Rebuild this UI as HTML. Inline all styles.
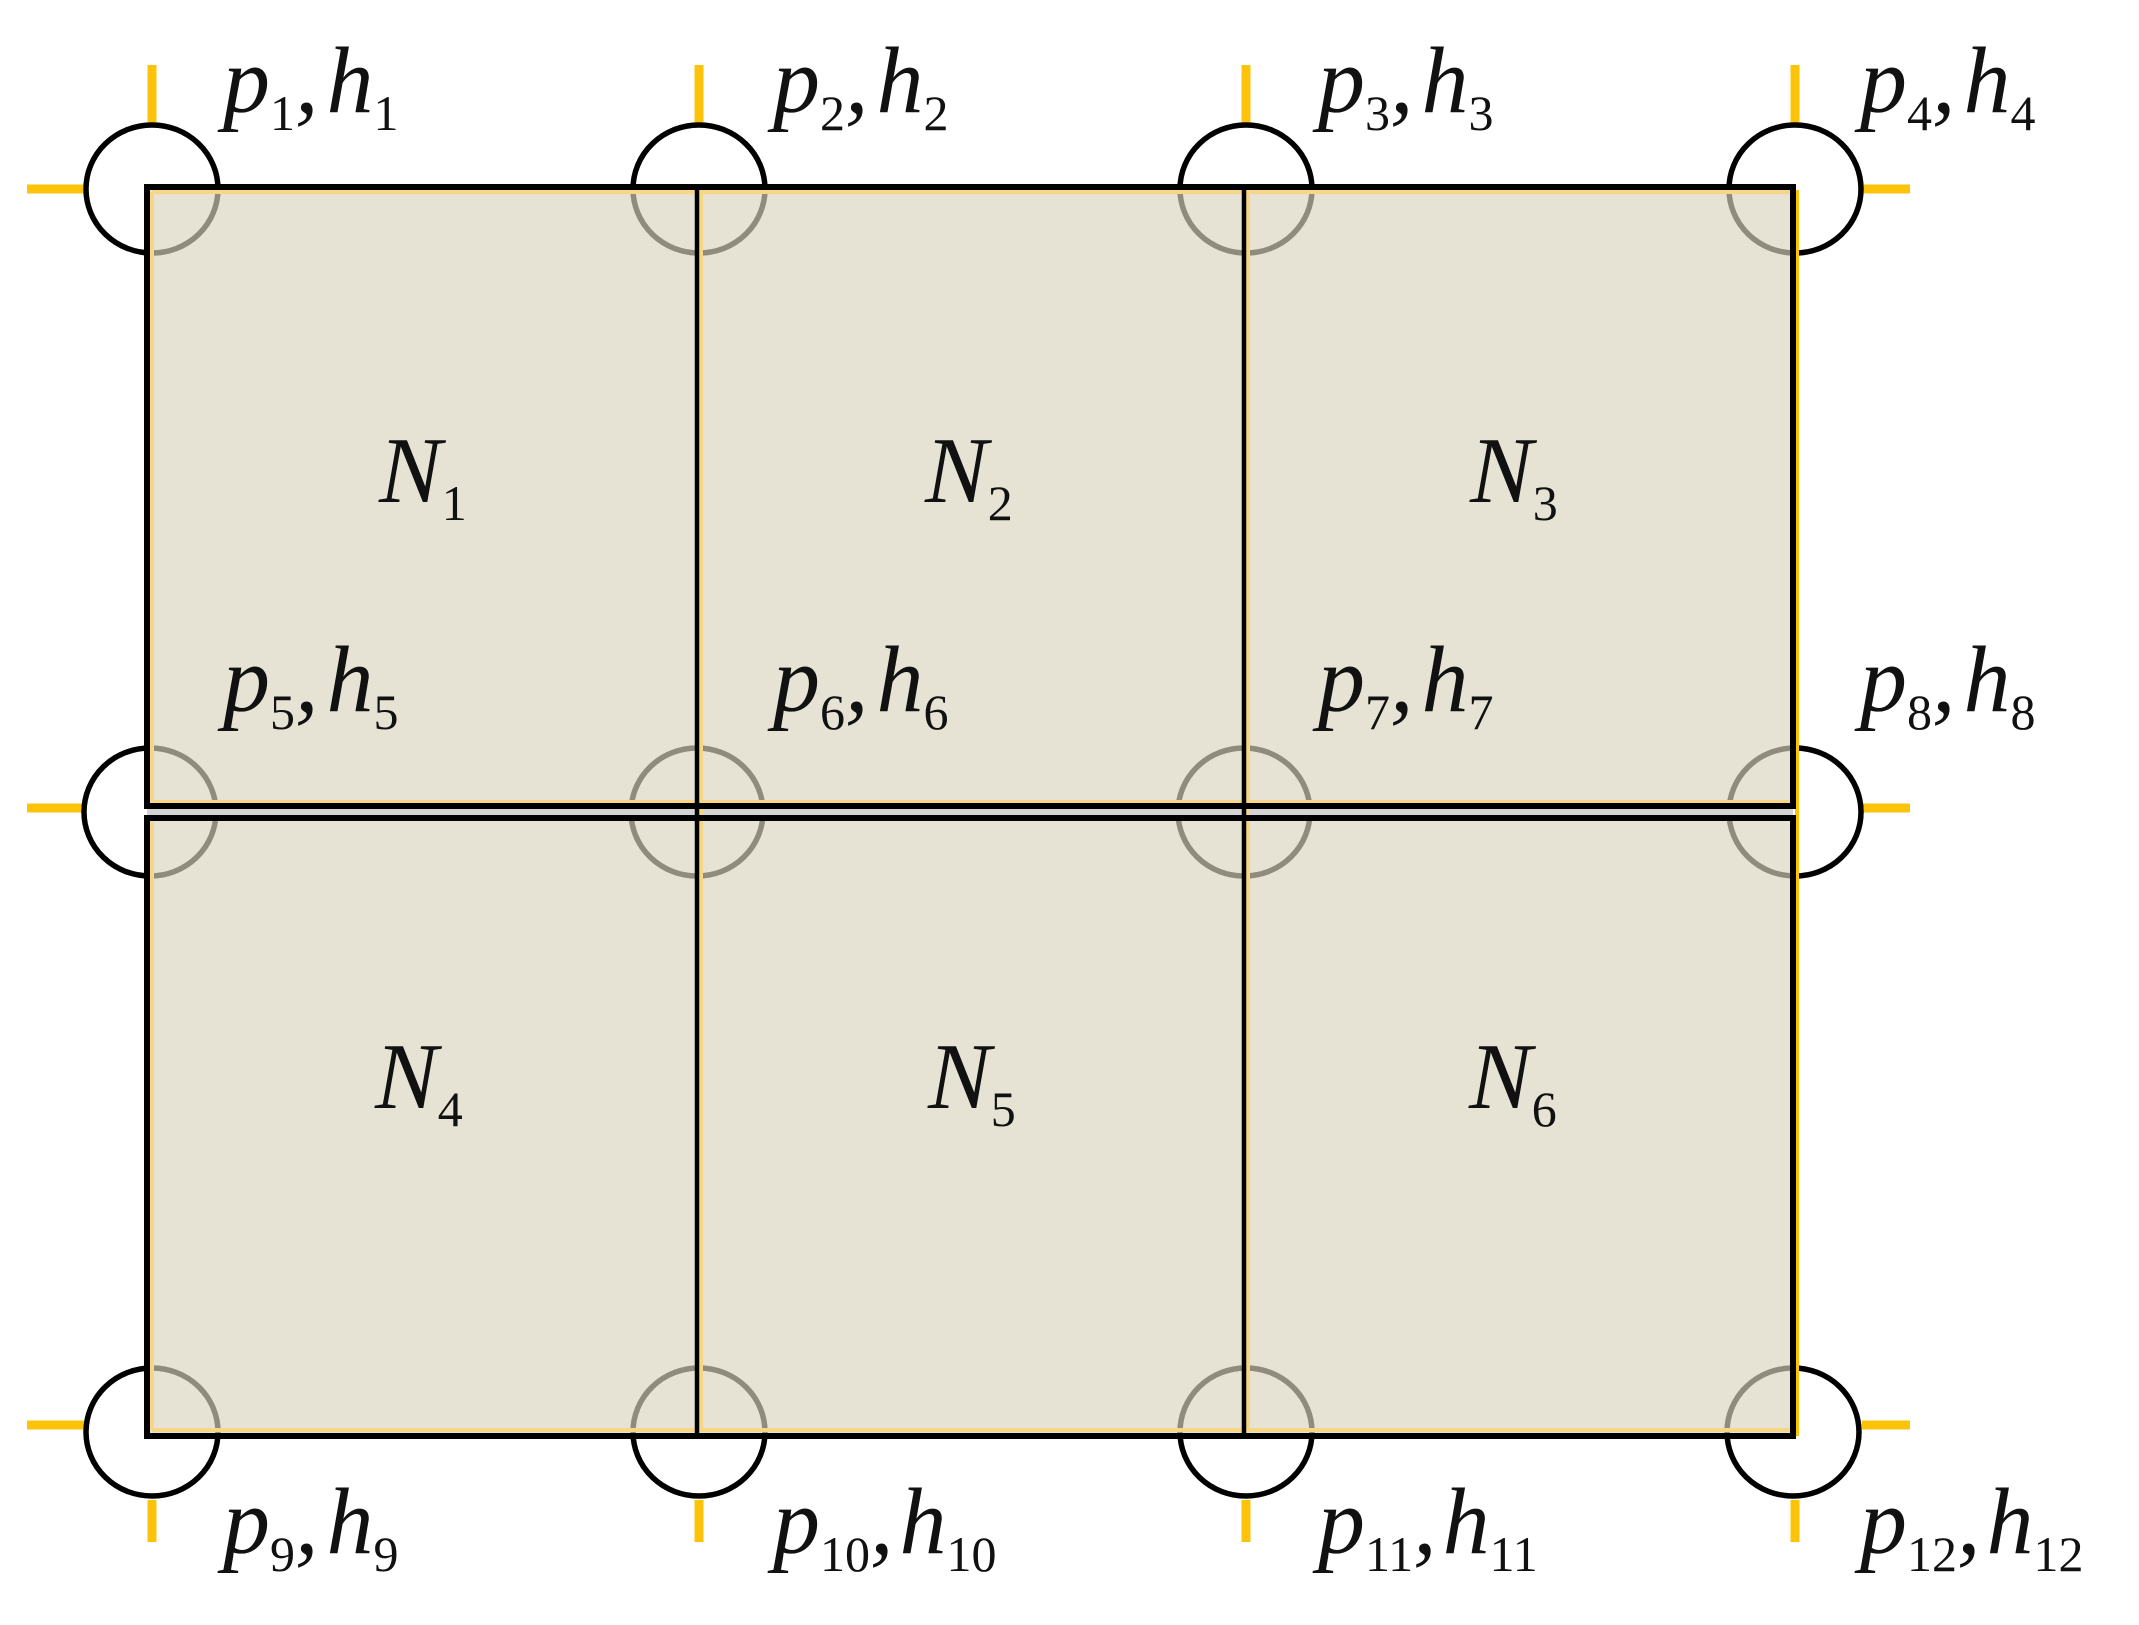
<!DOCTYPE html>
<html><head><meta charset="utf-8"><style>
html,body{margin:0;padding:0;background:#fff;}
svg{display:block;}
text{font-family:"Liberation Serif",serif;fill:#111;}
.m{font-style:italic;font-size:94px;}
.s{font-style:normal;font-size:50px;}
</style></head><body>
<svg width="2139" height="1625" viewBox="0 0 2139 1625" xmlns="http://www.w3.org/2000/svg">
<g stroke="#fcc30a" stroke-width="9">
  <line x1="152" y1="65" x2="152" y2="125"/>
  <line x1="699" y1="65" x2="699" y2="125"/>
  <line x1="1246" y1="65" x2="1246" y2="125"/>
  <line x1="1795" y1="65" x2="1795" y2="125"/>
  <line x1="152" y1="1500" x2="152" y2="1542"/>
  <line x1="699" y1="1500" x2="699" y2="1542"/>
  <line x1="1246" y1="1500" x2="1246" y2="1542"/>
  <line x1="1795" y1="1500" x2="1795" y2="1542"/>
  <line x1="27" y1="189" x2="84" y2="189"/>
  <line x1="27" y1="808" x2="84" y2="808"/>
  <line x1="27" y1="1425" x2="84" y2="1425"/>
  <line x1="1862" y1="189" x2="1910" y2="189"/>
  <line x1="1862" y1="808" x2="1910" y2="808"/>
  <line x1="1862" y1="1425" x2="1910" y2="1425"/>
</g>
<g fill="none" stroke="#000" stroke-width="5.5">
  <ellipse cx="152" cy="189" rx="66" ry="64"/>
  <ellipse cx="699" cy="189" rx="66" ry="64"/>
  <ellipse cx="1246" cy="189" rx="66" ry="64"/>
  <ellipse cx="1795" cy="189" rx="66" ry="64"/>
  <ellipse cx="150" cy="812" rx="66" ry="64"/>
  <ellipse cx="697" cy="812" rx="66" ry="64"/>
  <ellipse cx="1244" cy="812" rx="66" ry="64"/>
  <ellipse cx="1795" cy="812" rx="66" ry="64"/>
  <ellipse cx="152" cy="1432" rx="66" ry="64"/>
  <ellipse cx="699" cy="1432" rx="66" ry="64"/>
  <ellipse cx="1246" cy="1432" rx="66" ry="64"/>
  <ellipse cx="1793" cy="1432" rx="66" ry="64"/>
</g>
<rect x="147" y="806" width="1646" height="12" fill="#d4d4d4"/>
<g fill="rgb(217,213,190)" fill-opacity="0.66">
  <rect x="147" y="187" width="1646" height="619"/>
  <rect x="147" y="818" width="1646" height="618"/>
</g>
<g stroke="#f7d685" stroke-width="4" fill="none">
  <line x1="152" y1="192" x2="1790" y2="192"/>
  <line x1="152" y1="192" x2="152" y2="802"/>
  <line x1="152" y1="802" x2="1790" y2="802"/>
  <line x1="152" y1="822" x2="152" y2="1430"/>
  <line x1="152" y1="1430" x2="1790" y2="1430"/>
  <line x1="701" y1="192" x2="701" y2="1430"/>
  <line x1="1248" y1="192" x2="1248" y2="1430"/>
  <line x1="1797" y1="190" x2="1797" y2="1436" stroke="#fcc30a"/>
</g>
<g fill="none" stroke="#000" stroke-width="6">
  <rect x="147" y="187" width="1646" height="619"/>
  <rect x="147" y="818" width="1646" height="618"/>
</g>
<g stroke="#000" stroke-width="4.5">
  <line x1="697" y1="187" x2="697" y2="1436"/>
  <line x1="1244" y1="187" x2="1244" y2="1436"/>
</g>
<g class="m">
  <text x="223" y="112">p<tspan class="s" dy="18">1</tspan><tspan dy="-18">,</tspan><tspan dx="8">h</tspan><tspan class="s" dy="18">1</tspan></text>
  <text x="773" y="112">p<tspan class="s" dy="18">2</tspan><tspan dy="-18">,</tspan><tspan dx="8">h</tspan><tspan class="s" dy="18">2</tspan></text>
  <text x="1318" y="112">p<tspan class="s" dy="18">3</tspan><tspan dy="-18">,</tspan><tspan dx="8">h</tspan><tspan class="s" dy="18">3</tspan></text>
  <text x="1860" y="112">p<tspan class="s" dy="18">4</tspan><tspan dy="-18">,</tspan><tspan dx="8">h</tspan><tspan class="s" dy="18">4</tspan></text>

  <text x="223" y="711">p<tspan class="s" dy="18">5</tspan><tspan dy="-18">,</tspan><tspan dx="8">h</tspan><tspan class="s" dy="18">5</tspan></text>
  <text x="773" y="711">p<tspan class="s" dy="18">6</tspan><tspan dy="-18">,</tspan><tspan dx="8">h</tspan><tspan class="s" dy="18">6</tspan></text>
  <text x="1318" y="711">p<tspan class="s" dy="18">7</tspan><tspan dy="-18">,</tspan><tspan dx="8">h</tspan><tspan class="s" dy="18">7</tspan></text>
  <text x="1860" y="711">p<tspan class="s" dy="18">8</tspan><tspan dy="-18">,</tspan><tspan dx="8">h</tspan><tspan class="s" dy="18">8</tspan></text>

  <text x="223" y="1553">p<tspan class="s" dy="18">9</tspan><tspan dy="-18">,</tspan><tspan dx="8">h</tspan><tspan class="s" dy="18">9</tspan></text>
  <text x="773" y="1553">p<tspan class="s" dy="18">10</tspan><tspan dy="-18">,</tspan><tspan dx="6">h</tspan><tspan class="s" dy="18">10</tspan></text>
  <text x="1318" y="1553">p<tspan class="s" dy="18">11</tspan><tspan dy="-18">,</tspan><tspan dx="6">h</tspan><tspan class="s" dy="18">11</tspan></text>
  <text x="1860" y="1553">p<tspan class="s" dy="18">12</tspan><tspan dy="-18">,</tspan><tspan dx="6">h</tspan><tspan class="s" dy="18">12</tspan></text>

  <text x="379" y="502">N<tspan class="s" dy="18">1</tspan></text>
  <text x="925" y="502">N<tspan class="s" dy="18">2</tspan></text>
  <text x="1470" y="502">N<tspan class="s" dy="18">3</tspan></text>
  <text x="375" y="1108">N<tspan class="s" dy="18">4</tspan></text>
  <text x="928" y="1108">N<tspan class="s" dy="18">5</tspan></text>
  <text x="1469" y="1108">N<tspan class="s" dy="18">6</tspan></text>
</g>
</svg>
</body></html>
